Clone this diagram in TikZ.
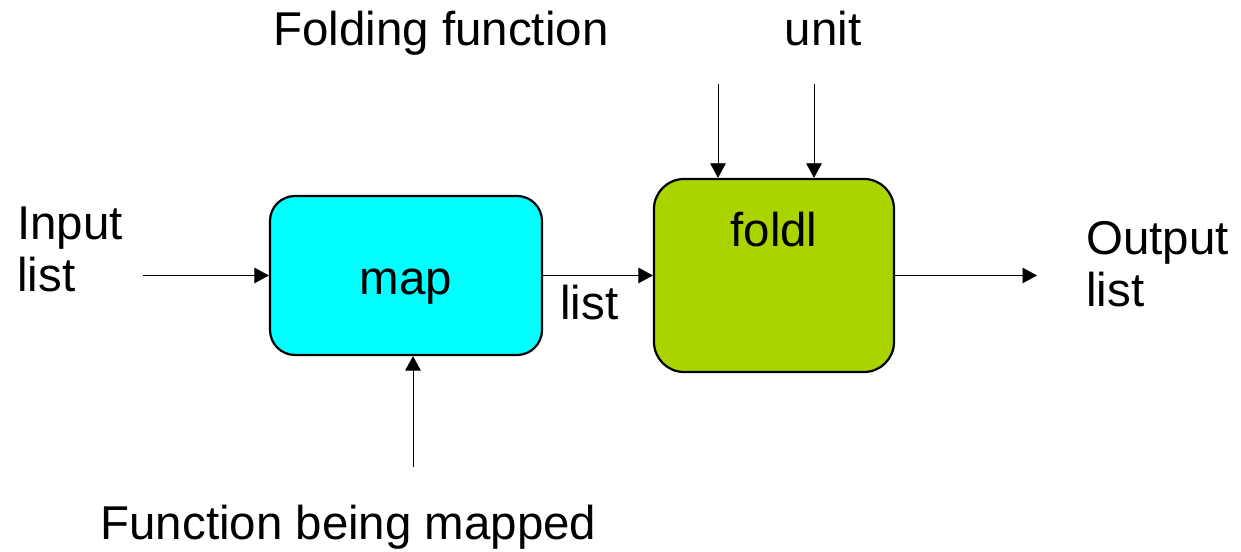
\documentclass[tikz,border=0pt]{standalone}
\usepackage{fontspec}
\setmainfont{Liberation Sans}
\usetikzlibrary{positioning, arrows.meta}
\definecolor{mapcyan}{RGB}{0,255,255}
\definecolor{foldgreen}{RGB}{170,212,0}
\tikzset{
->, % every connector is directed
>={Triangle[length=0.29cm, width=0.31cm]}, % filled triangle heads
line width=1.25pt,
every node/.style={font=\fontsize{27}{29.5}\selectfont}, % big sans text everywhere
block/.style={draw, line width=1.25pt, rounded corners=0.5cm}, % the two function boxes
lbl/.style={inner sep=0pt}, % plain text labels
}

\begin{document}
\begin{tikzpicture}
        \useasboundingbox (0,0) rectangle (24.82,11.04);

        \node[block, fill=mapcyan, minimum width=5.44cm, minimum height=3.18cm, text height=0.78cm, text depth=0pt] (map) at (8.12,5.53) {map};
        \node[block, fill=foldgreen, rounded corners=0.6cm, minimum width=4.8cm, minimum height=3.86cm, text height=0pt, text depth=1.14cm] (foldl) at (15.48,5.53) {foldl};

        \coordinate (in) at (2.86,5.53);
        \coordinate (out) at (20.74,5.53);
        \coordinate (ff) at (14.36,9.36);
        \coordinate (un) at (16.28,9.36);
        \coordinate (fm) at (8.26,1.7);

        \node[lbl, align=left, anchor=north west] (inlist) at (0.34,6.9) {Input\\list};
        \node[lbl, align=left, anchor=north west] (outlist) at (21.72,6.61) {Output\\list};
        \node[lbl, anchor=base] (foldfn) at (8.82,10.12) {Folding function};
        \node[lbl, anchor=base] (unit) at (16.46,10.12) {unit};
        \node[lbl, anchor=base] (mapfn) at (6.97,0.24) {Function being mapped};

        \draw (in) -- (map);
        \draw (map) -- node[lbl, below=5pt, pos=0.42]{list} (foldl);
        \draw (foldl) -- (out);
        \draw (ff) -- (ff |- foldl.north);
        \draw (un) -- (un |- foldl.north);
        \draw (fm) -- (fm |- map.south);
    \end{tikzpicture}
\end{document}
